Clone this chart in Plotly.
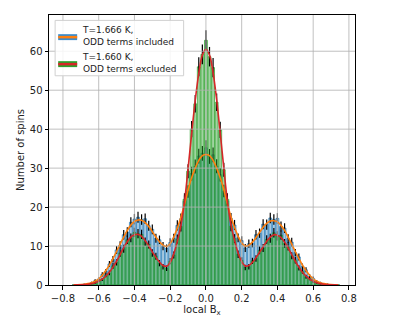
import plotly.graph_objects as go

# bin centres (width 0.02)
bin_x = [round(-0.74 + 0.02 * i, 2) for i in range(75)]

# T=1.666 K, ODD terms included -> histogram counts
counts_incl = [0.0, 0.0, 0.1, 0.2, 0.3, 0.6, 1.1, 1.5, 2.7, 3.5, 5.4, 6.6, 9.0, 10.2, 12.9, 13.6,
               16.1, 16.9, 17.4, 16.8, 17.0, 15.2, 14.3, 12.0, 11.6, 10.0, 9.4, 10.9, 12.0, 15.3,
               17.0, 21.5, 24.0, 28.6, 30.4, 33.1, 33.8, 35.2, 33.0, 33.4, 30.5, 28.3, 24.1, 21.6,
               17.1, 15.4, 12.1, 11.4, 9.5, 10.6, 10.8, 12.9, 13.3, 15.6, 15.5, 17.2, 16.8, 17.1,
               15.0, 14.6, 11.9, 11.0, 8.3, 7.2, 4.8, 3.9, 2.3, 1.7, 0.9, 0.6, 0.3, 0.2, 0.1, 0.0, 0.0]
err_incl = [0.0, 0.0, 0.1, 0.15, 0.2, 0.25, 0.35, 0.4, 0.55, 0.6, 0.75, 0.85, 1.0, 1.05, 1.2, 1.2,
            1.3, 1.35, 1.4, 1.35, 1.35, 1.3, 1.25, 1.15, 1.1, 1.05, 1.0, 1.1, 1.15, 1.3,
            1.35, 1.5, 1.6, 1.75, 1.8, 1.9, 1.9, 1.95, 1.9, 1.9, 1.8, 1.75, 1.6, 1.5,
            1.35, 1.3, 1.15, 1.1, 1.0, 1.05, 1.1, 1.2, 1.2, 1.3, 1.3, 1.35, 1.35, 1.35,
            1.3, 1.25, 1.15, 1.1, 0.95, 0.9, 0.7, 0.65, 0.5, 0.45, 0.3, 0.25, 0.2, 0.15, 0.1, 0.0, 0.0]
fit_incl = [0.02, 0.05, 0.1, 0.2, 0.35, 0.6, 1.0, 1.6, 2.5, 3.7, 5.1, 6.8, 8.6, 10.5, 12.3, 14.0,
            15.4, 16.3, 16.7, 16.6, 16.0, 15.0, 13.7, 12.3, 11.1, 10.2, 9.9, 10.6, 12.3, 14.6,
            17.4, 20.7, 24.4, 27.5, 30.0, 32.0, 33.2, 33.5, 33.2, 32.0, 30.0, 27.5, 24.5, 20.8,
            17.5, 14.8, 12.5, 10.8, 10.0, 10.2, 11.0, 12.2, 13.5, 14.8, 15.8, 16.4, 16.5, 16.2,
            15.3, 14.0, 12.3, 10.5, 8.6, 6.8, 5.1, 3.7, 2.5, 1.6, 1.0, 0.6, 0.35, 0.2, 0.1, 0.05, 0.02]

# T=1.660 K, ODD terms excluded
counts_excl = [0.0, 0.0, 0.05, 0.1, 0.2, 0.4, 0.5, 1.1, 1.4, 2.5, 3.1, 4.9, 5.8, 8.2, 9.3, 11.6,
               12.1, 13.5, 13.2, 13.0, 11.1, 10.4, 8.2, 7.4, 5.6, 4.7, 4.3, 6.1, 7.7, 11.8,
               15.0, 22.0, 29.2, 40.0, 46.5, 56.0, 59.2, 62.8, 58.6, 55.8, 46.9, 39.8, 29.6, 22.0,
               15.1, 11.9, 7.9, 6.3, 4.5, 4.7, 6.2, 6.8, 8.9, 9.5, 11.7, 12.0, 13.4, 12.6,
               12.8, 10.7, 9.9, 7.5, 6.4, 4.4, 3.5, 2.1, 1.6, 0.9, 0.6, 0.3, 0.2, 0.1, 0.05, 0.0, 0.0]
err_excl = [0.0, 0.0, 0.05, 0.1, 0.15, 0.2, 0.25, 0.35, 0.4, 0.5, 0.6, 0.75, 0.8, 0.95, 1.0, 1.1,
            1.15, 1.2, 1.2, 1.2, 1.1, 1.05, 0.95, 0.9, 0.8, 0.7, 0.7, 0.8, 0.9, 1.15,
            1.3, 1.55, 1.8, 2.1, 2.25, 2.45, 2.55, 2.6, 2.5, 2.45, 2.25, 2.1, 1.8, 1.55,
            1.3, 1.15, 0.95, 0.8, 0.7, 0.7, 0.8, 0.85, 1.0, 1.0, 1.1, 1.15, 1.2, 1.2,
            1.2, 1.1, 1.05, 0.9, 0.85, 0.7, 0.6, 0.5, 0.4, 0.3, 0.25, 0.2, 0.15, 0.1, 0.05, 0.0, 0.0]
fit_excl = [0.0, 0.02, 0.05, 0.1, 0.2, 0.35, 0.6, 1.0, 1.5, 2.3, 3.3, 4.6, 6.1, 7.8, 9.6, 11.1,
            12.3, 12.9, 13.0, 12.5, 11.4, 10.0, 8.5, 7.1, 5.9, 5.0, 4.8, 5.8, 8.0, 11.2,
            15.3, 21.3, 29.8, 38.8, 47.3, 54.3, 59.0, 60.5, 59.0, 54.5, 47.5, 39.0, 30.0, 21.5,
            15.5, 11.5, 8.2, 6.0, 4.9, 5.0, 5.8, 7.0, 8.4, 9.8, 11.2, 12.3, 12.9, 12.8,
            12.2, 11.0, 9.5, 7.8, 6.1, 4.6, 3.3, 2.3, 1.5, 1.0, 0.6, 0.35, 0.2, 0.1, 0.05, 0.02, 0.0]

x_ticks = [-0.8, -0.6, -0.4, -0.2, 0.0, 0.2, 0.4, 0.6, 0.8]
y_ticks = [0, 10, 20, 30, 40, 50, 60]

FONT = "DejaVu Sans"

fig = go.Figure()
fig.add_trace(go.Bar(
    x=bin_x, y=counts_incl, width=0.016,
    marker=dict(color="rgba(31,119,180,0.38)", line=dict(color="#1f77b4", width=0.7)),
    error_y=dict(type="data", array=err_incl, color="black", thickness=1.2, width=0),
    showlegend=False))
fig.add_trace(go.Bar(
    x=bin_x, y=counts_excl, width=0.016,
    marker=dict(color="rgba(44,160,44,0.45)", line=dict(color="#2ca02c", width=0.7)),
    error_y=dict(type="data", array=err_excl, color="black", thickness=1.2, width=0),
    showlegend=False))
fig.add_trace(go.Scatter(x=bin_x, y=fit_incl, mode="lines", line=dict(color="#ff7f0e", width=1.6, shape="spline"),
                         showlegend=False))
fig.add_trace(go.Scatter(x=bin_x, y=fit_excl, mode="lines", line=dict(color="#d62728", width=1.6, shape="spline"),
                         showlegend=False))

# grid drawn above bars, like the reference
shapes = []
for t in x_ticks:
    shapes.append(dict(type="line", xref="x", yref="paper", x0=t, x1=t, y0=0, y1=1, layer="above",
                       line=dict(color="rgba(176,176,176,0.8)", width=1)))
for t in y_ticks[1:]:
    shapes.append(dict(type="line", xref="paper", yref="y", x0=0, x1=1, y0=t, y1=t, layer="above",
                       line=dict(color="rgba(176,176,176,0.8)", width=1)))

# custom legend (patch with line through it)
shapes.append(dict(type="rect", xref="paper", yref="paper", x0=0.02, x1=0.44, y0=0.775, y1=0.98,
                   layer="above", fillcolor="rgba(255,255,255,0.85)", line=dict(color="#d0d0d0", width=1)))
leg = [("#3a8ccc", "#ff7f0e", 0.918, "T=1.666 K,<br>ODD terms included"),
       ("#2ca02c", "#d62728", 0.818, "T=1.660 K,<br>ODD terms excluded")]
annotations = []
for fill, line_col, yc, txt in leg:
    shapes.append(dict(type="rect", xref="paper", yref="paper", x0=0.03, x1=0.092, y0=yc - 0.011, y1=yc + 0.011,
                       layer="above", fillcolor=fill, line=dict(width=0)))
    shapes.append(dict(type="line", xref="paper", yref="paper", x0=0.03, x1=0.092, y0=yc, y1=yc,
                       layer="above", line=dict(color=line_col, width=2.5)))
    annotations.append(dict(xref="paper", yref="paper", x=0.102, y=yc + 0.003, text=txt, showarrow=False,
                            xanchor="left", yanchor="middle", align="left",
                            font=dict(family=FONT, size=9, color="#222")))

# page body adds an 8px offset, so the figure is 8px smaller and margins shifted
fig.update_layout(
    width=386, height=315,
    margin=dict(l=41, r=39, t=7, b=38),
    paper_bgcolor="white", plot_bgcolor="white",
    barmode="overlay",
    font=dict(family=FONT, size=10, color="#222"),
    shapes=shapes, annotations=annotations,
    xaxis=dict(range=[-0.878, 0.834], tickvals=x_ticks, ticktext=[f"{v:.1f}".replace("-", "\u2212") for v in x_ticks],
               showgrid=False, zeroline=False, showline=True, linecolor="black", linewidth=1, mirror=True,
               ticks="outside", ticklen=3.5, tickcolor="black", automargin=False,
               title=dict(text="local B<sub>x</sub>", standoff=0, font=dict(size=10))),
    yaxis=dict(range=[0, 69.3], tickvals=y_ticks, showgrid=False, zeroline=False,
               showline=True, linecolor="black", linewidth=1, mirror=True,
               ticks="outside", ticklen=3.5, tickcolor="black", automargin=False,
               title=dict(text="Number of spins", standoff=3, font=dict(size=10))),
)

fig.write_html("out.html")
